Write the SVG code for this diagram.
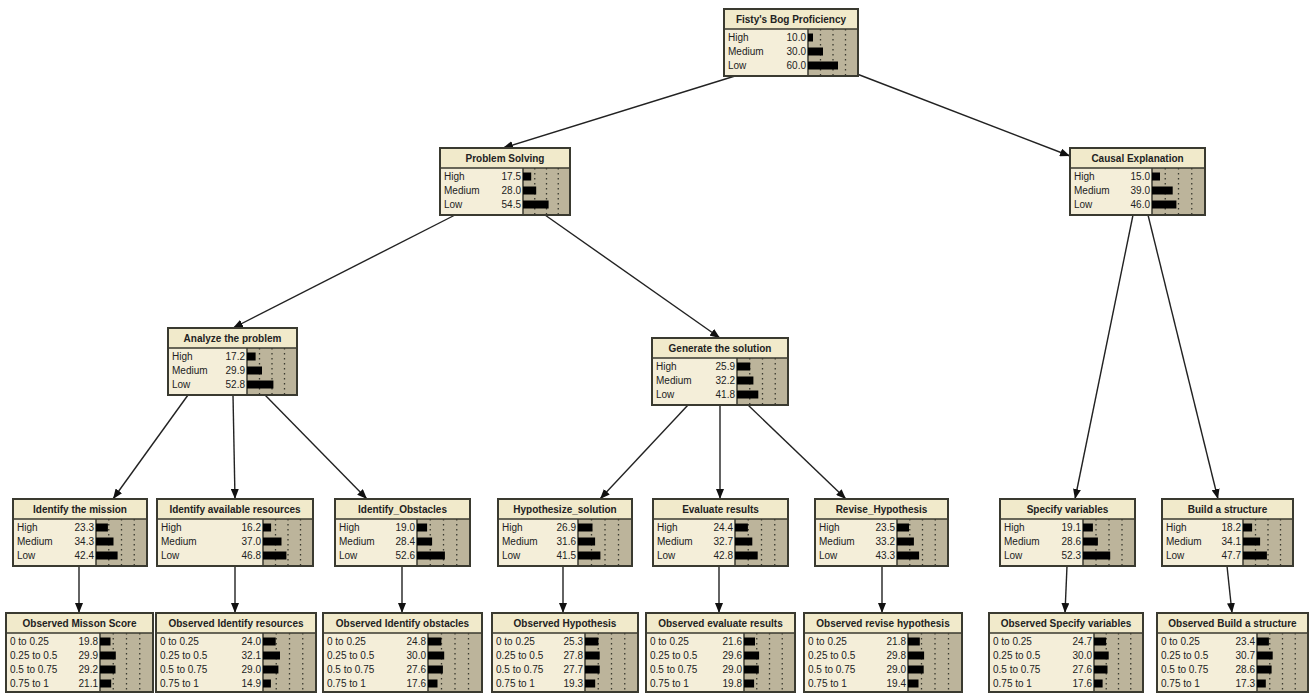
<svg xmlns="http://www.w3.org/2000/svg" width="1310" height="696" viewBox="0 0 1310 696">
<style>
.bd{fill:#f4eed9}
.ba{fill:#bcb49b}
.tb{fill:#f1eacb}
.dv{stroke:#3a3a30;stroke-width:1.5;fill:none}
.dt{stroke:#3a3a30;stroke-width:1.3;stroke-dasharray:1.5 3.5;fill:none}
.br{fill:#000}
.fr{fill:none;stroke:#3a3a30;stroke-width:2}
.tt{font-family:"Liberation Sans",Arial,sans-serif;font-size:10px;font-weight:bold;fill:#222;text-anchor:middle}
.lb{font-family:"Liberation Sans",Arial,sans-serif;font-size:10px;fill:#222}
.vl{font-family:"Liberation Sans",Arial,sans-serif;font-size:10px;fill:#222;text-anchor:end}
.ed{stroke:#222;stroke-width:1.4;fill:none;marker-end:url(#ah)}
</style>
<defs>
<marker id="ah" markerUnits="userSpaceOnUse" markerWidth="10" markerHeight="8" refX="10" refY="4" orient="auto">
<path d="M0 0L10 4L0 8z" fill="#111"/>
</marker>
</defs>
<rect width="1310" height="696" fill="#ffffff"/>

<g id="connectors">
<line class="ed" x1="735" y1="76" x2="503" y2="148"/>
<line class="ed" x1="857" y1="74" x2="1070" y2="156"/>
<line class="ed" x1="455" y1="215" x2="233" y2="328"/>
<line class="ed" x1="545" y1="215" x2="720" y2="338"/>
<line class="ed" x1="1133" y1="215" x2="1075" y2="499"/>
<line class="ed" x1="1148" y1="215" x2="1218" y2="499"/>
<line class="ed" x1="188" y1="395" x2="113" y2="499"/>
<line class="ed" x1="233" y1="395" x2="235" y2="499"/>
<line class="ed" x1="265" y1="395" x2="367" y2="499"/>
<line class="ed" x1="688" y1="405" x2="600" y2="499"/>
<line class="ed" x1="720" y1="405" x2="720" y2="499"/>
<line class="ed" x1="748" y1="405" x2="846" y2="499"/>
<line class="ed" x1="79" y1="566" x2="79" y2="613"/>
<line class="ed" x1="235" y1="566" x2="235" y2="613"/>
<line class="ed" x1="402" y1="566" x2="402" y2="613"/>
<line class="ed" x1="563" y1="566" x2="563" y2="613"/>
<line class="ed" x1="719" y1="566" x2="719" y2="613"/>
<line class="ed" x1="882" y1="566" x2="882" y2="613"/>
<line class="ed" x1="1067" y1="566" x2="1065" y2="613"/>
<line class="ed" x1="1227" y1="566" x2="1232" y2="613"/>
</g>

<g id="n-fisty">
<rect class="bd" x="724" y="9" width="134" height="67"/>
<rect class="ba" x="808" y="29" width="50" height="47"/>
<rect class="tb" x="724" y="9" width="134" height="20"/>
<path class="dv" d="M724 29H858M808 29V76"/>
<path class="dt" d="M820.5 29V76M833 29V76M845.5 29V76"/>
<rect class="br" x="808" y="33.5" width="5" height="8"/>
<rect class="br" x="808" y="47.5" width="15" height="8"/>
<rect class="br" x="808" y="61.5" width="30" height="8"/>
<text class="tt" x="791" y="23">Fisty's Bog Proficiency</text>
<text class="lb" x="728" y="41">High</text><text class="vl" x="806" y="41">10.0</text>
<text class="lb" x="728" y="55">Medium</text><text class="vl" x="806" y="55">30.0</text>
<text class="lb" x="728" y="69">Low</text><text class="vl" x="806" y="69">60.0</text>
<rect class="fr" x="724" y="9" width="134" height="67"/>
</g>

<g id="n-problem">
<rect class="bd" x="440" y="148" width="130" height="67"/>
<rect class="ba" x="523" y="168" width="47" height="47"/>
<rect class="tb" x="440" y="148" width="130" height="20"/>
<path class="dv" d="M440 168H570M523 168V215"/>
<path class="dt" d="M534.75 168V215M546.5 168V215M558.25 168V215"/>
<rect class="br" x="523" y="172.5" width="8.2" height="8"/>
<rect class="br" x="523" y="186.5" width="13.2" height="8"/>
<rect class="br" x="523" y="200.5" width="25.6" height="8"/>
<text class="tt" x="505" y="162">Problem Solving</text>
<text class="lb" x="444" y="180">High</text><text class="vl" x="521" y="180">17.5</text>
<text class="lb" x="444" y="194">Medium</text><text class="vl" x="521" y="194">28.0</text>
<text class="lb" x="444" y="208">Low</text><text class="vl" x="521" y="208">54.5</text>
<rect class="fr" x="440" y="148" width="130" height="67"/>
</g>

<g id="n-causal">
<rect class="bd" x="1070" y="148" width="135" height="67"/>
<rect class="ba" x="1152" y="168" width="53" height="47"/>
<rect class="tb" x="1070" y="148" width="135" height="20"/>
<path class="dv" d="M1070 168H1205M1152 168V215"/>
<path class="dt" d="M1165.25 168V215M1178.5 168V215M1191.75 168V215"/>
<rect class="br" x="1152" y="172.5" width="8" height="8"/>
<rect class="br" x="1152" y="186.5" width="20.7" height="8"/>
<rect class="br" x="1152" y="200.5" width="24.4" height="8"/>
<text class="tt" x="1137.5" y="162">Causal Explanation</text>
<text class="lb" x="1074" y="180">High</text><text class="vl" x="1150" y="180">15.0</text>
<text class="lb" x="1074" y="194">Medium</text><text class="vl" x="1150" y="194">39.0</text>
<text class="lb" x="1074" y="208">Low</text><text class="vl" x="1150" y="208">46.0</text>
<rect class="fr" x="1070" y="148" width="135" height="67"/>
</g>

<g id="n-analyze">
<rect class="bd" x="168" y="328" width="129" height="67"/>
<rect class="ba" x="247" y="348" width="50" height="47"/>
<rect class="tb" x="168" y="328" width="129" height="20"/>
<path class="dv" d="M168 348H297M247 348V395"/>
<path class="dt" d="M259.5 348V395M272 348V395M284.5 348V395"/>
<rect class="br" x="247" y="352.5" width="8.6" height="8"/>
<rect class="br" x="247" y="366.5" width="15" height="8"/>
<rect class="br" x="247" y="380.5" width="26.4" height="8"/>
<text class="tt" x="232.5" y="342">Analyze the problem</text>
<text class="lb" x="172" y="360">High</text><text class="vl" x="245" y="360">17.2</text>
<text class="lb" x="172" y="374">Medium</text><text class="vl" x="245" y="374">29.9</text>
<text class="lb" x="172" y="388">Low</text><text class="vl" x="245" y="388">52.8</text>
<rect class="fr" x="168" y="328" width="129" height="67"/>
</g>

<g id="n-generate">
<rect class="bd" x="652" y="338" width="136" height="67"/>
<rect class="ba" x="737" y="358" width="51" height="47"/>
<rect class="tb" x="652" y="338" width="136" height="20"/>
<path class="dv" d="M652 358H788M737 358V405"/>
<path class="dt" d="M749.75 358V405M762.5 358V405M775.25 358V405"/>
<rect class="br" x="737" y="362.5" width="13.2" height="8"/>
<rect class="br" x="737" y="376.5" width="16.4" height="8"/>
<rect class="br" x="737" y="390.5" width="21.3" height="8"/>
<text class="tt" x="720" y="352">Generate the solution</text>
<text class="lb" x="656" y="370">High</text><text class="vl" x="735" y="370">25.9</text>
<text class="lb" x="656" y="384">Medium</text><text class="vl" x="735" y="384">32.2</text>
<text class="lb" x="656" y="398">Low</text><text class="vl" x="735" y="398">41.8</text>
<rect class="fr" x="652" y="338" width="136" height="67"/>
</g>

<g id="n-mission">
<rect class="bd" x="13" y="499" width="134" height="67"/>
<rect class="ba" x="96" y="519" width="51" height="47"/>
<rect class="tb" x="13" y="499" width="134" height="20"/>
<path class="dv" d="M13 519H147M96 519V566"/>
<path class="dt" d="M108.75 519V566M121.5 519V566M134.25 519V566"/>
<rect class="br" x="96" y="523.5" width="11.9" height="8"/>
<rect class="br" x="96" y="537.5" width="17.5" height="8"/>
<rect class="br" x="96" y="551.5" width="21.6" height="8"/>
<text class="tt" x="80" y="513">Identify the mission</text>
<text class="lb" x="17" y="531">High</text><text class="vl" x="94" y="531">23.3</text>
<text class="lb" x="17" y="545">Medium</text><text class="vl" x="94" y="545">34.3</text>
<text class="lb" x="17" y="559">Low</text><text class="vl" x="94" y="559">42.4</text>
<rect class="fr" x="13" y="499" width="134" height="67"/>
</g>

<g id="n-resources">
<rect class="bd" x="157" y="499" width="156" height="67"/>
<rect class="ba" x="263" y="519" width="50" height="47"/>
<rect class="tb" x="157" y="499" width="156" height="20"/>
<path class="dv" d="M157 519H313M263 519V566"/>
<path class="dt" d="M275.5 519V566M288 519V566M300.5 519V566"/>
<rect class="br" x="263" y="523.5" width="8.1" height="8"/>
<rect class="br" x="263" y="537.5" width="18.5" height="8"/>
<rect class="br" x="263" y="551.5" width="23.4" height="8"/>
<text class="tt" x="235" y="513">Identify available resources</text>
<text class="lb" x="161" y="531">High</text><text class="vl" x="261" y="531">16.2</text>
<text class="lb" x="161" y="545">Medium</text><text class="vl" x="261" y="545">37.0</text>
<text class="lb" x="161" y="559">Low</text><text class="vl" x="261" y="559">46.8</text>
<rect class="fr" x="157" y="499" width="156" height="67"/>
</g>

<g id="n-obstacles">
<rect class="bd" x="335" y="499" width="135" height="67"/>
<rect class="ba" x="417" y="519" width="53" height="47"/>
<rect class="tb" x="335" y="499" width="135" height="20"/>
<path class="dv" d="M335 519H470M417 519V566"/>
<path class="dt" d="M430.25 519V566M443.5 519V566M456.75 519V566"/>
<rect class="br" x="417" y="523.5" width="10.1" height="8"/>
<rect class="br" x="417" y="537.5" width="15.1" height="8"/>
<rect class="br" x="417" y="551.5" width="27.9" height="8"/>
<text class="tt" x="402.5" y="513">Identify_Obstacles</text>
<text class="lb" x="339" y="531">High</text><text class="vl" x="415" y="531">19.0</text>
<text class="lb" x="339" y="545">Medium</text><text class="vl" x="415" y="545">28.4</text>
<text class="lb" x="339" y="559">Low</text><text class="vl" x="415" y="559">52.6</text>
<rect class="fr" x="335" y="499" width="135" height="67"/>
</g>

<g id="n-hypothesize">
<rect class="bd" x="498" y="499" width="134" height="67"/>
<rect class="ba" x="578" y="519" width="54" height="47"/>
<rect class="tb" x="498" y="499" width="134" height="20"/>
<path class="dv" d="M498 519H632M578 519V566"/>
<path class="dt" d="M591.5 519V566M605 519V566M618.5 519V566"/>
<rect class="br" x="578" y="523.5" width="14.5" height="8"/>
<rect class="br" x="578" y="537.5" width="17.1" height="8"/>
<rect class="br" x="578" y="551.5" width="22.4" height="8"/>
<text class="tt" x="565" y="513">Hypothesize_solution</text>
<text class="lb" x="502" y="531">High</text><text class="vl" x="576" y="531">26.9</text>
<text class="lb" x="502" y="545">Medium</text><text class="vl" x="576" y="545">31.6</text>
<text class="lb" x="502" y="559">Low</text><text class="vl" x="576" y="559">41.5</text>
<rect class="fr" x="498" y="499" width="134" height="67"/>
</g>

<g id="n-evaluate">
<rect class="bd" x="653" y="499" width="135" height="67"/>
<rect class="ba" x="735" y="519" width="53" height="47"/>
<rect class="tb" x="653" y="499" width="135" height="20"/>
<path class="dv" d="M653 519H788M735 519V566"/>
<path class="dt" d="M748.25 519V566M761.5 519V566M774.75 519V566"/>
<rect class="br" x="735" y="523.5" width="12.9" height="8"/>
<rect class="br" x="735" y="537.5" width="17.3" height="8"/>
<rect class="br" x="735" y="551.5" width="22.7" height="8"/>
<text class="tt" x="720.5" y="513">Evaluate results</text>
<text class="lb" x="657" y="531">High</text><text class="vl" x="733" y="531">24.4</text>
<text class="lb" x="657" y="545">Medium</text><text class="vl" x="733" y="545">32.7</text>
<text class="lb" x="657" y="559">Low</text><text class="vl" x="733" y="559">42.8</text>
<rect class="fr" x="653" y="499" width="135" height="67"/>
</g>

<g id="n-revise">
<rect class="bd" x="815" y="499" width="133" height="67"/>
<rect class="ba" x="897" y="519" width="51" height="47"/>
<rect class="tb" x="815" y="499" width="133" height="20"/>
<path class="dv" d="M815 519H948M897 519V566"/>
<path class="dt" d="M909.75 519V566M922.5 519V566M935.25 519V566"/>
<rect class="br" x="897" y="523.5" width="12" height="8"/>
<rect class="br" x="897" y="537.5" width="16.9" height="8"/>
<rect class="br" x="897" y="551.5" width="22.1" height="8"/>
<text class="tt" x="881.5" y="513">Revise_Hypothesis</text>
<text class="lb" x="819" y="531">High</text><text class="vl" x="895" y="531">23.5</text>
<text class="lb" x="819" y="545">Medium</text><text class="vl" x="895" y="545">33.2</text>
<text class="lb" x="819" y="559">Low</text><text class="vl" x="895" y="559">43.3</text>
<rect class="fr" x="815" y="499" width="133" height="67"/>
</g>

<g id="n-specify">
<rect class="bd" x="1000" y="499" width="135" height="67"/>
<rect class="ba" x="1083" y="519" width="52" height="47"/>
<rect class="tb" x="1000" y="499" width="135" height="20"/>
<path class="dv" d="M1000 519H1135M1083 519V566"/>
<path class="dt" d="M1096 519V566M1109 519V566M1122 519V566"/>
<rect class="br" x="1083" y="523.5" width="9.9" height="8"/>
<rect class="br" x="1083" y="537.5" width="14.9" height="8"/>
<rect class="br" x="1083" y="551.5" width="27.2" height="8"/>
<text class="tt" x="1067.5" y="513">Specify variables</text>
<text class="lb" x="1004" y="531">High</text><text class="vl" x="1081" y="531">19.1</text>
<text class="lb" x="1004" y="545">Medium</text><text class="vl" x="1081" y="545">28.6</text>
<text class="lb" x="1004" y="559">Low</text><text class="vl" x="1081" y="559">52.3</text>
<rect class="fr" x="1000" y="499" width="135" height="67"/>
</g>

<g id="n-build">
<rect class="bd" x="1162" y="499" width="131" height="67"/>
<rect class="ba" x="1243" y="519" width="50" height="47"/>
<rect class="tb" x="1162" y="499" width="131" height="20"/>
<path class="dv" d="M1162 519H1293M1243 519V566"/>
<path class="dt" d="M1255.5 519V566M1268 519V566M1280.5 519V566"/>
<rect class="br" x="1243" y="523.5" width="9.1" height="8"/>
<rect class="br" x="1243" y="537.5" width="17.1" height="8"/>
<rect class="br" x="1243" y="551.5" width="23.9" height="8"/>
<text class="tt" x="1227.5" y="513">Build a structure</text>
<text class="lb" x="1166" y="531">High</text><text class="vl" x="1241" y="531">18.2</text>
<text class="lb" x="1166" y="545">Medium</text><text class="vl" x="1241" y="545">34.1</text>
<text class="lb" x="1166" y="559">Low</text><text class="vl" x="1241" y="559">47.7</text>
<rect class="fr" x="1162" y="499" width="131" height="67"/>
</g>

<g id="n-obs-mission">
<rect class="bd" x="6" y="613" width="147" height="79"/>
<rect class="ba" x="100" y="633" width="53" height="59"/>
<rect class="tb" x="6" y="613" width="147" height="20"/>
<path class="dv" d="M6 633H153M100 633V692"/>
<path class="dt" d="M113.25 633V692M126.5 633V692M139.75 633V692"/>
<rect class="br" x="100" y="637.5" width="10.5" height="8"/>
<rect class="br" x="100" y="651.5" width="15.8" height="8"/>
<rect class="br" x="100" y="665.5" width="15.5" height="8"/>
<rect class="br" x="100" y="679.5" width="11.2" height="8"/>
<text class="tt" x="79.5" y="627">Observed Misson Score</text>
<text class="lb" x="10" y="645">0 to 0.25</text><text class="vl" x="98" y="645">19.8</text>
<text class="lb" x="10" y="659">0.25 to 0.5</text><text class="vl" x="98" y="659">29.9</text>
<text class="lb" x="10" y="673">0.5 to 0.75</text><text class="vl" x="98" y="673">29.2</text>
<text class="lb" x="10" y="687">0.75 to 1</text><text class="vl" x="98" y="687">21.1</text>
<rect class="fr" x="6" y="613" width="147" height="79"/>
</g>

<g id="n-obs-resources">
<rect class="bd" x="156" y="613" width="160" height="79"/>
<rect class="ba" x="263" y="633" width="53" height="59"/>
<rect class="tb" x="156" y="613" width="160" height="20"/>
<path class="dv" d="M156 633H316M263 633V692"/>
<path class="dt" d="M276.25 633V692M289.5 633V692M302.75 633V692"/>
<rect class="br" x="263" y="637.5" width="12.7" height="8"/>
<rect class="br" x="263" y="651.5" width="17" height="8"/>
<rect class="br" x="263" y="665.5" width="15.4" height="8"/>
<rect class="br" x="263" y="679.5" width="7.9" height="8"/>
<text class="tt" x="236" y="627">Observed Identify resources</text>
<text class="lb" x="160" y="645">0 to 0.25</text><text class="vl" x="261" y="645">24.0</text>
<text class="lb" x="160" y="659">0.25 to 0.5</text><text class="vl" x="261" y="659">32.1</text>
<text class="lb" x="160" y="673">0.5 to 0.75</text><text class="vl" x="261" y="673">29.0</text>
<text class="lb" x="160" y="687">0.75 to 1</text><text class="vl" x="261" y="687">14.9</text>
<rect class="fr" x="156" y="613" width="160" height="79"/>
</g>

<g id="n-obs-obstacles">
<rect class="bd" x="323" y="613" width="159" height="79"/>
<rect class="ba" x="428" y="633" width="54" height="59"/>
<rect class="tb" x="323" y="613" width="159" height="20"/>
<path class="dv" d="M323 633H482M428 633V692"/>
<path class="dt" d="M441.5 633V692M455 633V692M468.5 633V692"/>
<rect class="br" x="428" y="637.5" width="13.4" height="8"/>
<rect class="br" x="428" y="651.5" width="16.2" height="8"/>
<rect class="br" x="428" y="665.5" width="14.9" height="8"/>
<rect class="br" x="428" y="679.5" width="9.5" height="8"/>
<text class="tt" x="402.5" y="627">Observed Identify obstacles</text>
<text class="lb" x="327" y="645">0 to 0.25</text><text class="vl" x="426" y="645">24.8</text>
<text class="lb" x="327" y="659">0.25 to 0.5</text><text class="vl" x="426" y="659">30.0</text>
<text class="lb" x="327" y="673">0.5 to 0.75</text><text class="vl" x="426" y="673">27.6</text>
<text class="lb" x="327" y="687">0.75 to 1</text><text class="vl" x="426" y="687">17.6</text>
<rect class="fr" x="323" y="613" width="159" height="79"/>
</g>

<g id="n-obs-hypothesis">
<rect class="bd" x="492" y="613" width="146" height="79"/>
<rect class="ba" x="585" y="633" width="53" height="59"/>
<rect class="tb" x="492" y="613" width="146" height="20"/>
<path class="dv" d="M492 633H638M585 633V692"/>
<path class="dt" d="M598.25 633V692M611.5 633V692M624.75 633V692"/>
<rect class="br" x="585" y="637.5" width="13.4" height="8"/>
<rect class="br" x="585" y="651.5" width="14.7" height="8"/>
<rect class="br" x="585" y="665.5" width="14.7" height="8"/>
<rect class="br" x="585" y="679.5" width="10.2" height="8"/>
<text class="tt" x="565" y="627">Observed Hypothesis</text>
<text class="lb" x="496" y="645">0 to 0.25</text><text class="vl" x="583" y="645">25.3</text>
<text class="lb" x="496" y="659">0.25 to 0.5</text><text class="vl" x="583" y="659">27.8</text>
<text class="lb" x="496" y="673">0.5 to 0.75</text><text class="vl" x="583" y="673">27.7</text>
<text class="lb" x="496" y="687">0.75 to 1</text><text class="vl" x="583" y="687">19.3</text>
<rect class="fr" x="492" y="613" width="146" height="79"/>
</g>

<g id="n-obs-evaluate">
<rect class="bd" x="646" y="613" width="149" height="79"/>
<rect class="ba" x="744" y="633" width="51" height="59"/>
<rect class="tb" x="646" y="613" width="149" height="20"/>
<path class="dv" d="M646 633H795M744 633V692"/>
<path class="dt" d="M756.75 633V692M769.5 633V692M782.25 633V692"/>
<rect class="br" x="744" y="637.5" width="11" height="8"/>
<rect class="br" x="744" y="651.5" width="15.1" height="8"/>
<rect class="br" x="744" y="665.5" width="14.8" height="8"/>
<rect class="br" x="744" y="679.5" width="10.1" height="8"/>
<text class="tt" x="720.5" y="627">Observed evaluate results</text>
<text class="lb" x="650" y="645">0 to 0.25</text><text class="vl" x="742" y="645">21.6</text>
<text class="lb" x="650" y="659">0.25 to 0.5</text><text class="vl" x="742" y="659">29.6</text>
<text class="lb" x="650" y="673">0.5 to 0.75</text><text class="vl" x="742" y="673">29.0</text>
<text class="lb" x="650" y="687">0.75 to 1</text><text class="vl" x="742" y="687">19.8</text>
<rect class="fr" x="646" y="613" width="149" height="79"/>
</g>

<g id="n-obs-revise">
<rect class="bd" x="804" y="613" width="158" height="79"/>
<rect class="ba" x="908" y="633" width="54" height="59"/>
<rect class="tb" x="804" y="613" width="158" height="20"/>
<path class="dv" d="M804 633H962M908 633V692"/>
<path class="dt" d="M921.5 633V692M935 633V692M948.5 633V692"/>
<rect class="br" x="908" y="637.5" width="11.8" height="8"/>
<rect class="br" x="908" y="651.5" width="16.1" height="8"/>
<rect class="br" x="908" y="665.5" width="15.7" height="8"/>
<rect class="br" x="908" y="679.5" width="10.5" height="8"/>
<text class="tt" x="883" y="627">Observed revise hypothesis</text>
<text class="lb" x="808" y="645">0 to 0.25</text><text class="vl" x="906" y="645">21.8</text>
<text class="lb" x="808" y="659">0.25 to 0.5</text><text class="vl" x="906" y="659">29.8</text>
<text class="lb" x="808" y="673">0.5 to 0.75</text><text class="vl" x="906" y="673">29.0</text>
<text class="lb" x="808" y="687">0.75 to 1</text><text class="vl" x="906" y="687">19.4</text>
<rect class="fr" x="804" y="613" width="158" height="79"/>
</g>

<g id="n-obs-specify">
<rect class="bd" x="989" y="613" width="154" height="79"/>
<rect class="ba" x="1094" y="633" width="49" height="59"/>
<rect class="tb" x="989" y="613" width="154" height="20"/>
<path class="dv" d="M989 633H1143M1094 633V692"/>
<path class="dt" d="M1106.25 633V692M1118.5 633V692M1130.75 633V692"/>
<rect class="br" x="1094" y="637.5" width="12.1" height="8"/>
<rect class="br" x="1094" y="651.5" width="14.7" height="8"/>
<rect class="br" x="1094" y="665.5" width="13.5" height="8"/>
<rect class="br" x="1094" y="679.5" width="8.6" height="8"/>
<text class="tt" x="1066" y="627">Observed Specify variables</text>
<text class="lb" x="993" y="645">0 to 0.25</text><text class="vl" x="1092" y="645">24.7</text>
<text class="lb" x="993" y="659">0.25 to 0.5</text><text class="vl" x="1092" y="659">30.0</text>
<text class="lb" x="993" y="673">0.5 to 0.75</text><text class="vl" x="1092" y="673">27.6</text>
<text class="lb" x="993" y="687">0.75 to 1</text><text class="vl" x="1092" y="687">17.6</text>
<rect class="fr" x="989" y="613" width="154" height="79"/>
</g>

<g id="n-obs-build">
<rect class="bd" x="1157" y="613" width="151" height="79"/>
<rect class="ba" x="1257" y="633" width="51" height="59"/>
<rect class="tb" x="1157" y="613" width="151" height="20"/>
<path class="dv" d="M1157 633H1308M1257 633V692"/>
<path class="dt" d="M1269.75 633V692M1282.5 633V692M1295.25 633V692"/>
<rect class="br" x="1257" y="637.5" width="11.9" height="8"/>
<rect class="br" x="1257" y="651.5" width="15.7" height="8"/>
<rect class="br" x="1257" y="665.5" width="14.6" height="8"/>
<rect class="br" x="1257" y="679.5" width="8.8" height="8"/>
<text class="tt" x="1232.5" y="627">Observed Build a structure</text>
<text class="lb" x="1161" y="645">0 to 0.25</text><text class="vl" x="1255" y="645">23.4</text>
<text class="lb" x="1161" y="659">0.25 to 0.5</text><text class="vl" x="1255" y="659">30.7</text>
<text class="lb" x="1161" y="673">0.5 to 0.75</text><text class="vl" x="1255" y="673">28.6</text>
<text class="lb" x="1161" y="687">0.75 to 1</text><text class="vl" x="1255" y="687">17.3</text>
<rect class="fr" x="1157" y="613" width="151" height="79"/>
</g>
</svg>
